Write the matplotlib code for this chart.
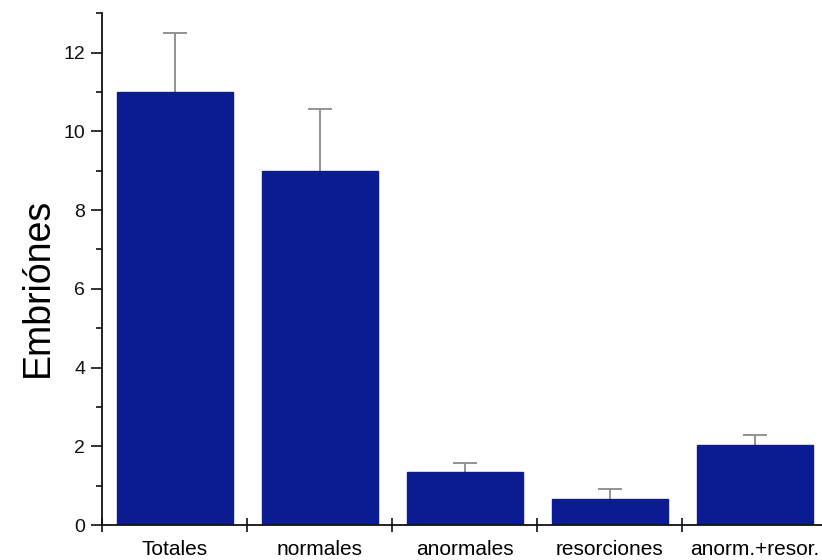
import matplotlib
matplotlib.use("Agg")
import matplotlib.pyplot as plt
from matplotlib.ticker import MultipleLocator, FixedLocator, NullFormatter

categories = ["Totales", "normales", "anormales", "resorciones", "anorm.+resor."]
means = [11.0, 9.0, 1.35, 0.67, 2.03]
errors = [1.5, 1.56, 0.22, 0.25, 0.26]

plt.rcParams["font.family"] = ["Liberation Sans", "DejaVu Sans"]

fig = plt.figure(figsize=(8.22, 5.6), dpi=100)
ax = fig.add_axes([0.1241, 0.0625, 0.882, 0.914])

x = list(range(len(categories)))
ax.bar(x, means, width=0.8, color="#0b1c92", edgecolor="#0b1c92", zorder=2)
_, caps, _ = ax.errorbar(x, means, yerr=[[0] * len(errors), errors], fmt="none",
                         ecolor="#8a8a8a", elinewidth=1.3, capsize=8.5,
                         capthick=1.3, zorder=1)
# only the upper cap is shown
caps[0].set_visible(False)

ax.set_xlim(-0.5, len(categories) - 0.5)
ax.set_ylim(0, 13)

for side in ("top", "right"):
    ax.spines[side].set_visible(False)
for side in ("left", "bottom"):
    ax.spines[side].set_linewidth(1.3)
    ax.spines[side].set_color("#111111")

ax.yaxis.set_major_locator(FixedLocator([0, 2, 4, 6, 8, 10, 12]))
ax.yaxis.set_minor_locator(MultipleLocator(1))
ax.tick_params(axis="y", which="major", direction="out", length=8, width=1.2,
               labelsize=14, colors="#111111", pad=4)
ax.tick_params(axis="y", which="minor", direction="out", length=4.5, width=1.2,
               colors="#111111")

# category labels centered on bars, ticks at the boundaries between them
ax.set_xticks(x)
ax.set_xticklabels(categories)
ax.tick_params(axis="x", which="major", length=0, labelsize=15, pad=11)
ax.xaxis.set_minor_locator(FixedLocator([i - 0.5 for i in range(len(categories) + 1)]))
ax.xaxis.set_minor_formatter(NullFormatter())
ax.tick_params(axis="x", which="minor", direction="inout", length=10, width=1.2,
               colors="#111111")

ax.set_ylabel("Embriónes", fontsize=27)
ax.yaxis.set_label_coords(-0.064, 0.465)

fig.savefig("out.png", dpi=100)
